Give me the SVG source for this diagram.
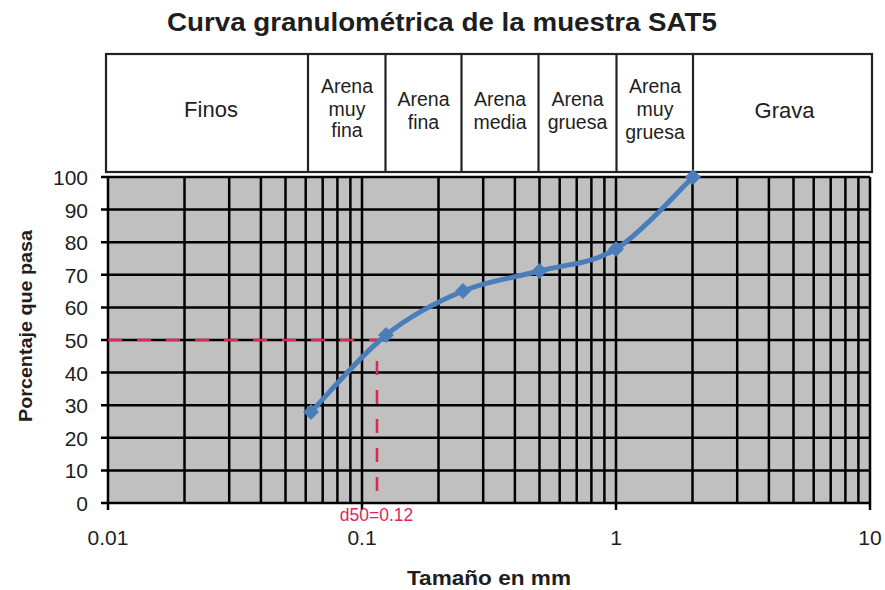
<svg xmlns="http://www.w3.org/2000/svg" width="885" height="590" viewBox="0 0 885 590">
<style>
text{font-family:"Liberation Sans",Arial,sans-serif;fill:#1e1e1e}
.hdr{font-size:19.5px;text-anchor:middle}
.big{font-size:22px;text-anchor:middle}
.yl{font-size:21px;text-anchor:end}
.xl{font-size:21px;text-anchor:middle}
.grid line{stroke:#000;stroke-width:2.5}
.box{fill:#fff;stroke:#222;stroke-width:2.2}
.sep{stroke:#222;stroke-width:2.2}
.d50{stroke:#dc2a55;stroke-width:2.6;stroke-dasharray:14 15;fill:none}
.mk{fill:#4a7ebb}
</style>
<rect width="885" height="590" fill="#fff"/>
<text x="442" y="31" font-size="25" font-weight="bold" text-anchor="middle" textLength="550" lengthAdjust="spacingAndGlyphs">Curva granulométrica de la muestra SAT5</text>

<g id="header">
<rect class="box" x="106" y="54" width="766" height="118"/>
<line class="sep" x1="308" y1="54" x2="308" y2="172"/>
<line class="sep" x1="385.5" y1="54" x2="385.5" y2="172"/>
<line class="sep" x1="461.5" y1="54" x2="461.5" y2="172"/>
<line class="sep" x1="538.5" y1="54" x2="538.5" y2="172"/>
<line class="sep" x1="616.5" y1="54" x2="616.5" y2="172"/>
<line class="sep" x1="693" y1="54" x2="693" y2="172"/>
</g>
<g id="finos"><text class="big" x="211" y="117">Finos</text></g>
<g id="arena-muy-fina"><text class="hdr" x="347" y="93">Arena</text><text class="hdr" x="347" y="116">muy</text><text class="hdr" x="347" y="137">fina</text></g>
<g id="arena-fina"><text class="hdr" x="423.5" y="106">Arena</text><text class="hdr" x="423.5" y="129">fina</text></g>
<g id="arena-media"><text class="hdr" x="500" y="106">Arena</text><text class="hdr" x="500" y="129">media</text></g>
<g id="arena-gruesa"><text class="hdr" x="577.5" y="106">Arena</text><text class="hdr" x="577.5" y="129">gruesa</text></g>
<g id="arena-muy-gruesa"><text class="hdr" x="655" y="93">Arena</text><text class="hdr" x="655" y="116">muy</text><text class="hdr" x="655" y="139">gruesa</text></g>
<g id="grava"><text class="big" x="784.5" y="118">Grava</text></g>

<g id="plot">
<rect x="108" y="177" width="762" height="326" fill="#c0c0c0"/>
<g class="grid">
<line x1="101" y1="177" x2="870" y2="177"/>
<line x1="101" y1="209.6" x2="870" y2="209.6"/>
<line x1="101" y1="242.2" x2="870" y2="242.2"/>
<line x1="101" y1="274.8" x2="870" y2="274.8"/>
<line x1="101" y1="307.4" x2="870" y2="307.4"/>
<line x1="101" y1="340" x2="870" y2="340"/>
<line x1="101" y1="372.6" x2="870" y2="372.6"/>
<line x1="101" y1="405.2" x2="870" y2="405.2"/>
<line x1="101" y1="437.8" x2="870" y2="437.8"/>
<line x1="101" y1="470.4" x2="870" y2="470.4"/>
<line x1="101" y1="503" x2="870" y2="503"/>
<line x1="108" y1="177" x2="108" y2="510"/>
<line x1="184.5" y1="177" x2="184.5" y2="503"/>
<line x1="229.2" y1="177" x2="229.2" y2="503"/>
<line x1="260.9" y1="177" x2="260.9" y2="503"/>
<line x1="285.5" y1="177" x2="285.5" y2="503"/>
<line x1="305.7" y1="177" x2="305.7" y2="503"/>
<line x1="322.7" y1="177" x2="322.7" y2="503"/>
<line x1="337.4" y1="177" x2="337.4" y2="503"/>
<line x1="350.4" y1="177" x2="350.4" y2="503"/>
<line x1="362" y1="177" x2="362" y2="510"/>
<line x1="438.5" y1="177" x2="438.5" y2="503"/>
<line x1="483.2" y1="177" x2="483.2" y2="503"/>
<line x1="514.9" y1="177" x2="514.9" y2="503"/>
<line x1="539.5" y1="177" x2="539.5" y2="503"/>
<line x1="559.7" y1="177" x2="559.7" y2="503"/>
<line x1="576.7" y1="177" x2="576.7" y2="503"/>
<line x1="591.4" y1="177" x2="591.4" y2="503"/>
<line x1="604.4" y1="177" x2="604.4" y2="503"/>
<line x1="616" y1="177" x2="616" y2="510"/>
<line x1="692.5" y1="177" x2="692.5" y2="503"/>
<line x1="737.2" y1="177" x2="737.2" y2="503"/>
<line x1="768.9" y1="177" x2="768.9" y2="503"/>
<line x1="793.5" y1="177" x2="793.5" y2="503"/>
<line x1="813.7" y1="177" x2="813.7" y2="503"/>
<line x1="830.7" y1="177" x2="830.7" y2="503"/>
<line x1="845.4" y1="177" x2="845.4" y2="503"/>
<line x1="858.4" y1="177" x2="858.4" y2="503"/>
<line x1="870" y1="177" x2="870" y2="510"/>
</g>
</g>

<g id="y-labels">
<text class="yl" x="88" y="185">100</text>
<text class="yl" x="88" y="217.6">90</text>
<text class="yl" x="88" y="250.2">80</text>
<text class="yl" x="88" y="282.8">70</text>
<text class="yl" x="88" y="315.4">60</text>
<text class="yl" x="88" y="348">50</text>
<text class="yl" x="88" y="380.6">40</text>
<text class="yl" x="88" y="413.2">30</text>
<text class="yl" x="88" y="445.8">20</text>
<text class="yl" x="88" y="478.4">10</text>
<text class="yl" x="88" y="511">0</text>
</g>
<g id="x-labels">
<text class="xl" x="108" y="545">0.01</text>
<text class="xl" x="362" y="545">0.1</text>
<text class="xl" x="616" y="545">1</text>
<text class="xl" x="870" y="545">10</text>
</g>

<g id="connectors">
<path class="d50" d="M108,340 H377 V503"/>
<path d="M311,412 C323.5,399.2 360.7,355.2 386,335 C411.3,314.8 437.4,301.7 463,291 C488.6,280.3 514,278 539.5,271 C565,264 590.4,264.7 616,249 C641.6,233.3 680.2,189 693,177" fill="none" stroke="#4a7ebb" stroke-width="5" stroke-linecap="round"/>
</g>
<g id="points">
<polygon class="mk" points="311,404 319,412 311,420 303,412"/>
<polygon class="mk" points="386,327 394,335 386,343 378,335"/>
<polygon class="mk" points="463,283 471,291 463,299 455,291"/>
<polygon class="mk" points="539.5,263 547.5,271 539.5,279 531.5,271"/>
<polygon class="mk" points="616,241 624,249 616,257 608,249"/>
<polygon class="mk" points="693,169 701,177 693,185 685,177"/>
</g>
<text x="376.5" y="521" font-size="17.5" text-anchor="middle" style="fill:#dc2a55">d50=0.12</text>

<text x="489" y="585" font-size="20" font-weight="bold" text-anchor="middle" textLength="164" lengthAdjust="spacingAndGlyphs">Tamaño en mm</text>
<text transform="translate(32,326) rotate(-90)" font-size="19" font-weight="bold" text-anchor="middle" textLength="192" lengthAdjust="spacingAndGlyphs">Porcentaje que pasa</text>
</svg>
